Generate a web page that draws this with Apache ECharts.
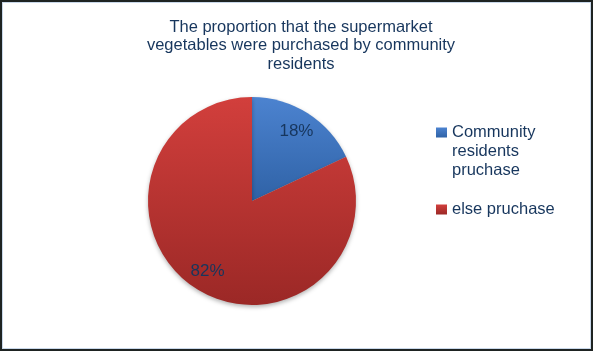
<!DOCTYPE html>
<html>
<head>
<meta charset="utf-8">
<script src="https://cdn.jsdelivr.net/npm/echarts@6/dist/echarts.min.js"></script>
<style>
  html, body { margin: 0; padding: 0; background: #fff; }
  #wrap { position: relative; width: 593px; height: 351px; }
  #main { position: absolute; left: 0; top: 0; width: 593px; height: 351px; }
  #frame { position: absolute; left: 0; top: 0; width: 593px; height: 351px; box-sizing: border-box;
           border: 2px solid #1e2322; box-shadow: inset 0 0 0 1px #c9d8ea; pointer-events: none; }
</style>
</head>
<body>
<div id="wrap">
  <div id="main"></div>
  <div id="frame"></div>
</div>
<script>
var titleText = 'The proportion that the supermarket\nvegetables were purchased by community\nresidents';
var categories = ['Community\nresidents\npruchase', 'else pruchase'];
var values = [18, 82];
var textColor = '#17365d';
var fontName = 'Liberation Sans, Arial, sans-serif';

var gradients = [
    { type: 'linear', x: 0, y: 0, x2: 0, y2: 1,
      colorStops: [{ offset: 0, color: '#4c83d0' }, { offset: 1, color: '#2f62a6' }] },
    { type: 'linear', x: 0, y: 0, x2: 0, y2: 1,
      colorStops: [{ offset: 0, color: '#d23f3c' }, { offset: 1, color: '#9b2826' }] }
];

var pieData = categories.map(function (name, i) {
    return { name: name, value: values[i], itemStyle: { color: gradients[i] } };
});
var labelData = categories.map(function (name, i) {
    return { name: name, value: values[i] };
});

var myChart = echarts.init(document.getElementById('main'));
var option = {
    animation: false,
    title: {
        text: titleText,
        left: 301,
        top: 18,
        padding: 0,
        textAlign: 'center',
        textStyle: {
            fontFamily: fontName,
            fontSize: 16.5,
            fontWeight: 'normal',
            lineHeight: 18.5,
            color: textColor
        }
    },
    legend: {
        orient: 'vertical',
        left: 431,
        top: 80,
        icon: 'rect',
        itemWidth: 11,
        itemHeight: 10,
        itemGap: 20,
        // pad the multi-line entry with blank lines above so the icon sits by its first line
        formatter: function (name) {
            var n = name.split('\n').length - 1;
            return new Array(n + 1).join('\n') + name;
        },
        textStyle: {
            fontFamily: fontName,
            fontSize: 16.5,
            lineHeight: 19,
            color: textColor
        },
        data: categories
    },
    series: [{
        name: 'share',
        type: 'pie',
        center: [252, 201],
        radius: [0, 104],
        startAngle: 90,
        label: { show: false },
        labelLine: { show: false },
        itemStyle: {
            shadowBlur: 4,
            shadowOffsetY: 2,
            shadowColor: 'rgba(0,0,0,0.3)'
        },
        emphasis: { disabled: true },
        data: pieData
    }, {
        name: 'labels',
        type: 'pie',
        center: [252, 201],
        radius: [56, 104],
        startAngle: 90,
        silent: true,
        itemStyle: { color: 'rgba(0,0,0,0)' },
        label: {
            show: true,
            position: 'inside',
            formatter: '{c}%',
            fontFamily: fontName,
            fontSize: 17,
            color: textColor
        },
        labelLine: { show: false },
        emphasis: { disabled: true },
        data: labelData
    }]
};
myChart.setOption(option);
</script>
</body>
</html>
